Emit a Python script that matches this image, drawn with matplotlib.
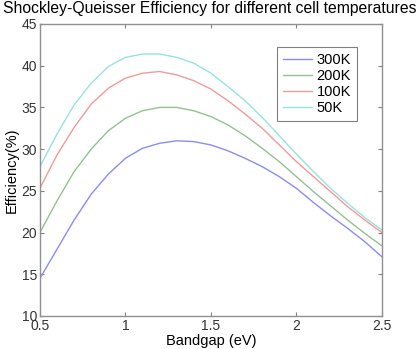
import numpy as np
import matplotlib
matplotlib.use("Agg")
from matplotlib import pyplot as plt

plt.rcParams['font.family'] = ['Liberation Sans', 'DejaVu Sans']

# bandgap (eV)
bandgap = [0.5, 0.6, 0.7, 0.8, 0.9, 1.0, 1.1, 1.2, 1.3, 1.4, 1.5,
           1.6, 1.7, 1.8, 1.9, 2.0, 2.1, 2.2, 2.3, 2.4, 2.5]
# efficiency (%) per cell temperature
eff_300k = [14.5, 18.0, 21.5, 24.6, 27.0, 28.9, 30.1, 30.7, 31.0, 30.9, 30.5,
            29.8, 28.9, 27.9, 26.7, 25.3, 23.6, 22.0, 20.5, 18.9, 17.1]
eff_200k = [20.0, 23.8, 27.3, 30.0, 32.2, 33.7, 34.6, 35.0, 35.0, 34.6, 33.9,
            32.9, 31.6, 30.1, 28.5, 26.7, 24.9, 23.2, 21.5, 19.9, 18.4]
eff_100k = [25.3, 29.3, 32.6, 35.4, 37.3, 38.5, 39.1, 39.3, 38.9, 38.2, 37.2,
            35.8, 34.2, 32.5, 30.5, 28.5, 26.7, 24.9, 23.1, 21.5, 20.0]
eff_50k = [27.9, 31.8, 35.3, 37.9, 39.9, 41.0, 41.4, 41.4, 41.0, 40.3, 39.1,
           37.5, 35.8, 33.8, 31.6, 29.4, 27.3, 25.3, 23.5, 21.8, 20.3]
labels = ["300K", "200K", "100K", "50K"]
colors = ['#8c8cf0', '#93c193', '#f29a9a', '#96e2e2']

fig = plt.figure(figsize=(4.2, 3.49), dpi=100)
ax = fig.add_axes([0.095, 0.0946, 0.8143, 0.8367])

for ys, lab, c in zip([eff_300k, eff_200k, eff_100k, eff_50k], labels, colors):
    ax.plot(bandgap, ys, color=c, lw=1.0, label=lab)

ax.set_xlim(0.5, 2.5)
ax.set_ylim(10, 45)
ax.set_xticks([0.5, 1, 1.5, 2, 2.5])
ax.set_xticklabels(['0.5', '1', '1.5', '2', '2.5'])
ax.set_yticks(np.arange(10, 46, 5))
ax.tick_params(direction='in', top=True, right=True, length=3,
               color='#808080', labelsize=10, pad=2, labelcolor='#333333')
for s in ax.spines.values():
    s.set_color('#909090')
    s.set_linewidth(1.0)

ax.set_xlabel('Bandgap (eV)', fontsize=10.5, labelpad=1)
ax.set_ylabel('Efficiency(%)', fontsize=10.5, labelpad=2)
fig.text(0.5, 0.975, 'Shockley-Queisser Efficiency for different cell temperatures',
         ha='center', va='center', fontsize=11.3)

leg = ax.legend(loc='upper right', bbox_to_anchor=(0.927, 0.921), borderaxespad=0,
                fontsize=10.5, handlelength=2.0, handletextpad=0.3,
                labelspacing=0.15, borderpad=0.4, fancybox=False, framealpha=1)
leg.get_frame().set_edgecolor('#808080')
leg.get_frame().set_linewidth(0.8)

plt.savefig('out.png', dpi=100)
